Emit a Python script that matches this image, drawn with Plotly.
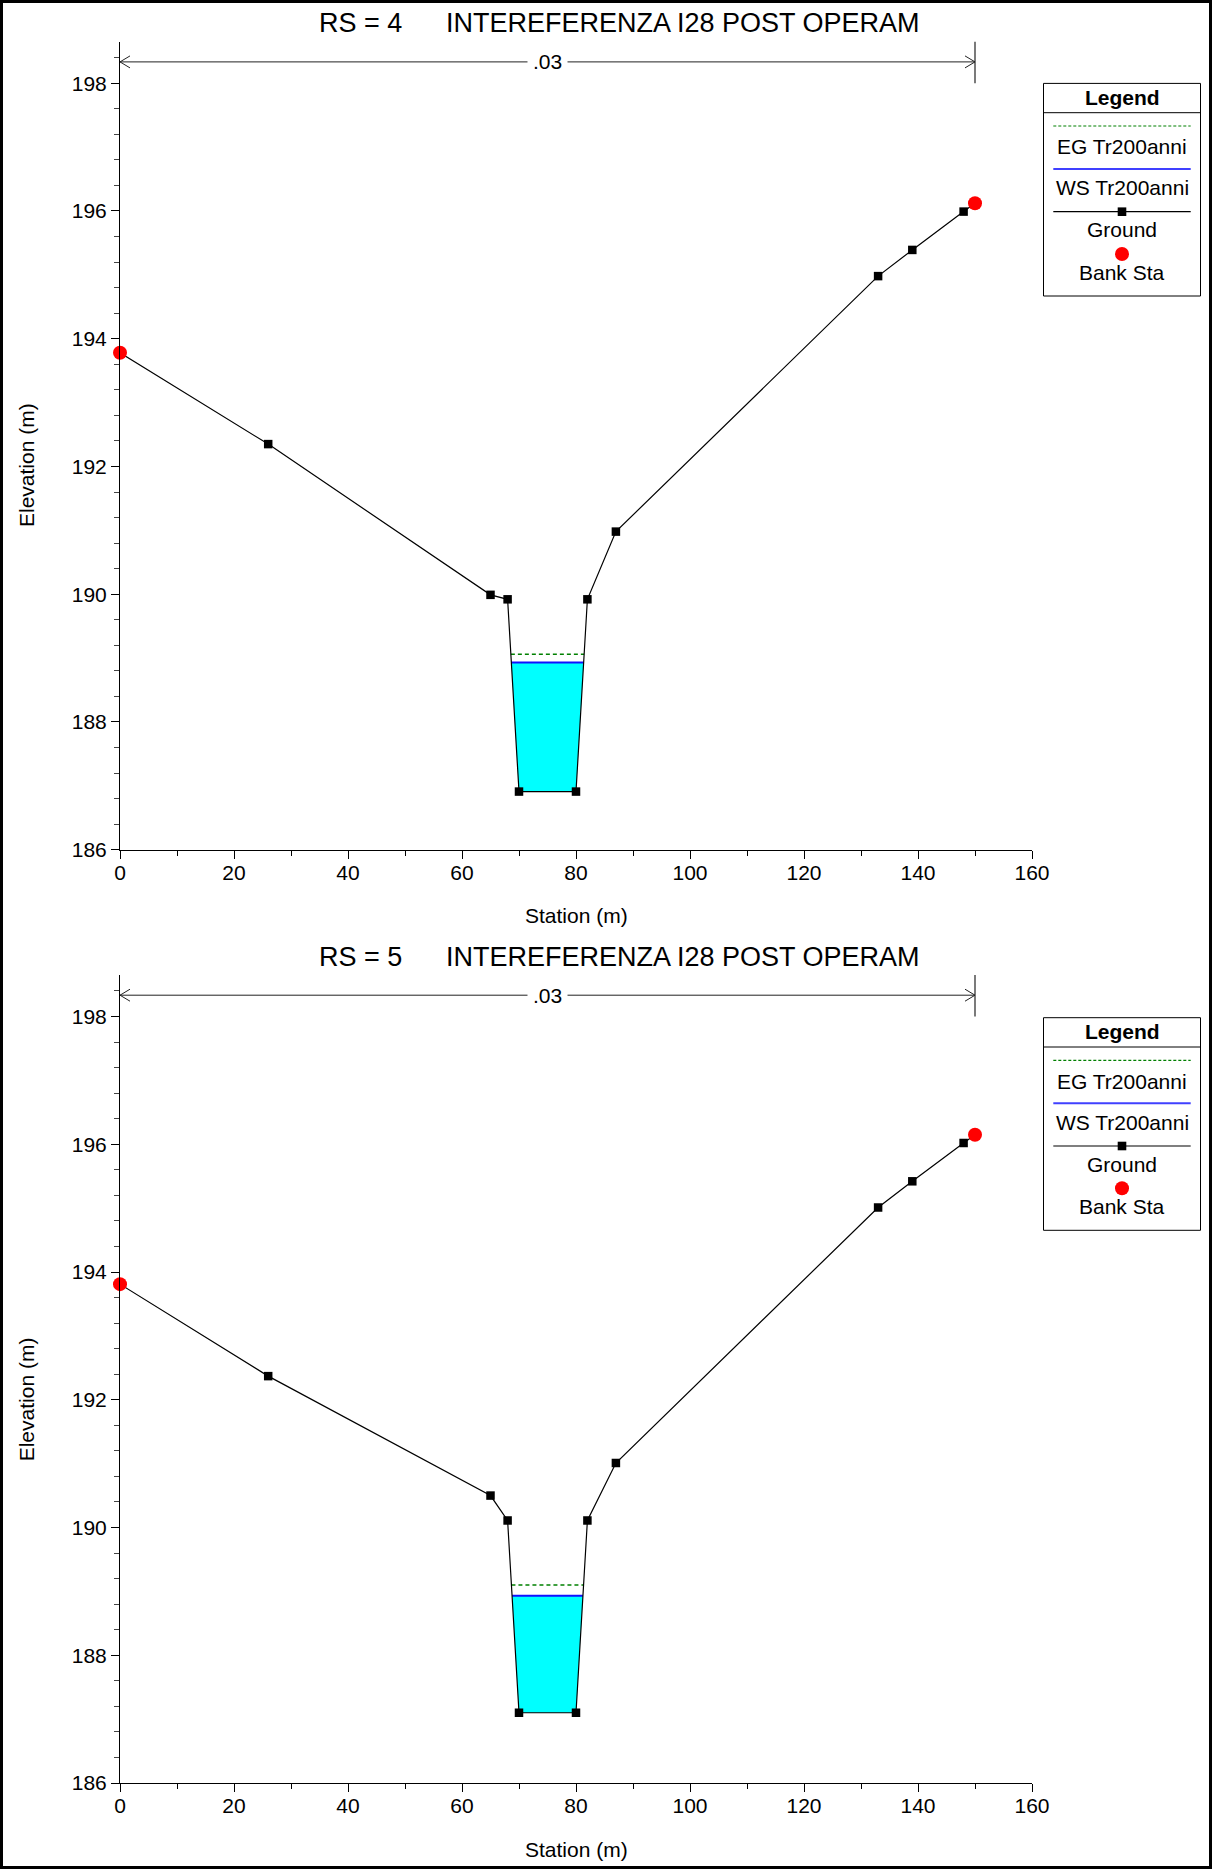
import numpy as np
import plotly.graph_objects as go

# ---------------- data ----------------
panel_titles = ["RS = 4", "RS = 5"]
subtitle = "INTEREFERENZA I28 POST OPERAM"

ground_sta = [0, 26, 65, 68, 70, 80, 82, 87, 133, 139, 148, 150]
ground_elev_rs4 = [193.78, 192.35, 189.99, 189.92, 186.91, 186.91, 189.92, 190.98, 194.98, 195.39, 195.99, 196.12]
ground_elev_rs5 = [193.81, 192.37, 190.50, 190.11, 187.10, 187.10, 190.11, 191.01, 195.01, 195.42, 196.02, 196.15]
bank_sta = [0, 150]
ws_levels = [188.93, 188.93]
eg_levels = [189.06, 189.10]
n_stations = [0, 150]
n_label = ".03"

legend_labels = ["EG Tr200anni", "WS Tr200anni", "Ground", "Bank Sta"]
x_ticks = [0, 20, 40, 60, 80, 100, 120, 140, 160]
y_ticks = [186, 188, 190, 192, 194, 196, 198]

# ---------------- layout geometry ----------------
W, H = 1212, 1869
ML, MR, MT, MB = 120, 180, 41, 86
PW = W - ML - MR
PH = H - MT - MB
FONT = "Arial, Liberation Sans, sans-serif"


def pxx(px):
    return (px - ML) / PW


def pxy(py):
    return (H - MB - py) / PH


panel_top_px = [41.7, 975.0]
panel_bot_px = [849.7, 1783.0]
panel_shift = [0.0, 934.3]
Y_RANGE = [186, 198.65]


def crossings(sta, elev, level):
    xs, ys = [], []
    for i in range(len(sta) - 1):
        x0, y0, x1, y1 = sta[i], elev[i], sta[i + 1], elev[i + 1]
        if y0 < level:
            xs.append(x0)
            ys.append(y0)
        if (y0 - level) * (y1 - level) < 0:
            t = (level - y0) / (y1 - y0)
            xs.append(x0 + t * (x1 - x0))
            ys.append(level)
    if elev[-1] < level:
        xs.append(sta[-1])
        ys.append(elev[-1])
    return xs, ys


fig = go.Figure()
shapes = []
annotations = []

grounds = [ground_elev_rs4, ground_elev_rs5]

for k in range(2):
    xa = "x" if k == 0 else "x2"
    ya = "y" if k == 0 else "y2"
    elev = grounds[k]
    ws = ws_levels[k]
    eg = eg_levels[k]

    wx, wy = crossings(ground_sta, elev, ws)
    ex, ey = crossings(ground_sta, elev, eg)

    # water fill
    fig.add_trace(go.Scatter(x=wx, y=wy, mode="lines", fill="toself",
                             fillcolor="#00FFFF", line=dict(width=0),
                             xaxis=xa, yaxis=ya, showlegend=False, hoverinfo="skip"))
    # EG
    fig.add_trace(go.Scatter(x=[ex[0], ex[-1]], y=[eg, eg], mode="lines",
                             line=dict(color="#008000", width=1.5, dash="4px,3px"),
                             xaxis=xa, yaxis=ya, showlegend=False))
    # WS
    fig.add_trace(go.Scatter(x=[wx[0], wx[-1]], y=[ws, ws], mode="lines",
                             line=dict(color="#1010FF", width=2),
                             xaxis=xa, yaxis=ya, showlegend=False))
    # Ground
    fig.add_trace(go.Scatter(x=ground_sta, y=elev, mode="lines+markers",
                             line=dict(color="black", width=1.2),
                             marker=dict(symbol="square", size=8.5, color="black"),
                             xaxis=xa, yaxis=ya, showlegend=False, cliponaxis=False))
    # Bank stations
    bank_elev = list(np.interp(bank_sta, ground_sta, elev))
    fig.add_trace(go.Scatter(x=bank_sta, y=bank_elev, mode="markers",
                             marker=dict(symbol="circle", size=14, color="#FF0000"),
                             xaxis=xa, yaxis=ya, showlegend=False, cliponaxis=False))

    # Manning's n annotation
    yd = f"{ya} domain"
    n_y = 0.975
    dx = 10 / (PW / 160.0)
    dy = 6 / 808.0
    shapes.append(dict(type="line", xref=xa, yref=yd, x0=n_stations[0], x1=n_stations[1],
                       y0=n_y, y1=n_y, line=dict(color="#222222", width=1)))
    shapes.append(dict(type="line", xref=xa, yref=yd, x0=n_stations[1], x1=n_stations[1],
                       y0=0.9485, y1=1.0, line=dict(color="#222222", width=1.2)))
    shapes.append(dict(type="path", xref=xa, yref=yd,
                       path=f"M {n_stations[0]+dx},{n_y+dy} L {n_stations[0]},{n_y} L {n_stations[0]+dx},{n_y-dy}",
                       line=dict(color="#222222", width=1)))
    shapes.append(dict(type="path", xref=xa, yref=yd,
                       path=f"M {n_stations[1]-dx},{n_y+dy} L {n_stations[1]},{n_y} L {n_stations[1]-dx},{n_y-dy}",
                       line=dict(color="#222222", width=1)))
    annotations.append(dict(text=n_label, xref=xa, yref=yd, x=(n_stations[0] + n_stations[1]) / 2,
                            y=n_y, showarrow=False, bgcolor="white", borderpad=5,
                            font=dict(family=FONT, size=21, color="black"),
                            xanchor="center", yanchor="middle"))

    sh = panel_shift[k]
    # titles
    annotations.append(dict(text=panel_titles[k], xref="paper", yref="paper",
                            x=pxx(317), y=pxy(23 + sh), showarrow=False,
                            xanchor="left", yanchor="middle",
                            font=dict(family=FONT, size=27, color="black")))
    annotations.append(dict(text=subtitle, xref="paper", yref="paper",
                            x=pxx(444), y=pxy(23 + sh), showarrow=False,
                            xanchor="left", yanchor="middle",
                            font=dict(family=FONT, size=27, color="black")))
    # axis titles
    annotations.append(dict(text="Station (m)", xref=xa, yref="paper",
                            x=80, y=pxy(915 + sh), showarrow=False,
                            xanchor="center", yanchor="middle",
                            font=dict(family=FONT, size=21, color="black")))
    annotations.append(dict(text="Elevation (m)", xref="paper", yref="paper",
                            x=pxx(26), y=pxy(465 + sh), showarrow=False, textangle=-90,
                            xanchor="center", yanchor="middle",
                            font=dict(family=FONT, size=21, color="black")))

    # custom legend
    top = 83.4 + sh
    lx0, lx1 = 1043.5, 1200.5
    cx = (lx0 + lx1) / 2
    shapes.append(dict(type="rect", xref="paper", yref="paper",
                       x0=pxx(lx0), x1=pxx(lx1), y0=pxy(top), y1=pxy(top + 212.6),
                       line=dict(color="black", width=1), fillcolor="white", layer="above"))
    shapes.append(dict(type="line", xref="paper", yref="paper",
                       x0=pxx(lx0), x1=pxx(lx1), y0=pxy(top + 29.3), y1=pxy(top + 29.3),
                       line=dict(color="black", width=1)))
    annotations.append(dict(text="<b>Legend</b>", xref="paper", yref="paper",
                            x=pxx(cx), y=pxy(top + 14), showarrow=False,
                            xanchor="center", yanchor="middle",
                            font=dict(family=FONT, size=21, color="black")))
    ll0, ll1 = 1053.3, 1190.7
    shapes.append(dict(type="line", xref="paper", yref="paper",
                       x0=pxx(ll0), x1=pxx(ll1), y0=pxy(top + 42.6), y1=pxy(top + 42.6),
                       line=dict(color="#008000", width=1.2, dash="3px,2px")))
    shapes.append(dict(type="line", xref="paper", yref="paper",
                       x0=pxx(ll0), x1=pxx(ll1), y0=pxy(top + 85.6), y1=pxy(top + 85.6),
                       line=dict(color="#4040FF", width=2)))
    shapes.append(dict(type="line", xref="paper", yref="paper",
                       x0=pxx(ll0), x1=pxx(ll1), y0=pxy(top + 128.3), y1=pxy(top + 128.3),
                       line=dict(color="black", width=1.2)))
    shapes.append(dict(type="rect", xref="paper", yref="paper",
                       x0=pxx(cx - 4.3), x1=pxx(cx + 4.3), y0=pxy(top + 128.3 - 4.3), y1=pxy(top + 128.3 + 4.3),
                       line=dict(width=0), fillcolor="black"))
    shapes.append(dict(type="circle", xref="paper", yref="paper",
                       x0=pxx(cx - 7), x1=pxx(cx + 7), y0=pxy(top + 170.6 - 7), y1=pxy(top + 170.6 + 7),
                       line=dict(width=0), fillcolor="#FF0000"))
    for lab, off in zip(legend_labels, [63.5, 104.5, 146.5, 189]):
        annotations.append(dict(text=lab, xref="paper", yref="paper",
                                x=pxx(cx), y=pxy(top + off), showarrow=False,
                                xanchor="center", yanchor="middle",
                                font=dict(family=FONT, size=21, color="black")))

# outer frame
shapes.append(dict(type="rect", xref="paper", yref="paper",
                   x0=pxx(1.5), x1=pxx(W - 1.5), y0=pxy(1.5), y1=pxy(H - 1.5),
                   line=dict(color="black", width=3)))

xaxis_common = dict(range=[0, 160], tickmode="array", tickvals=x_ticks,
                    ticktext=[str(v) for v in x_ticks],
                    showline=True, linecolor="black", linewidth=1,
                    ticks="outside", ticklen=8, tickwidth=1, tickcolor="black",
                    ticklabelstandoff=-4,
                    minor=dict(dtick=10, tick0=0, ticks="outside", ticklen=5, tickcolor="black", showgrid=False),
                    showgrid=False, zeroline=False,
                    tickfont=dict(family=FONT, size=21, color="black"))
yaxis_common = dict(range=Y_RANGE, tickmode="array", tickvals=y_ticks,
                    ticktext=[str(v) for v in y_ticks],
                    showline=True, linecolor="black", linewidth=1,
                    ticks="outside", ticklen=8, tickwidth=1, tickcolor="black",
                    minor=dict(dtick=0.4, tick0=186, ticks="outside", ticklen=5, tickcolor="#444444", showgrid=False),
                    showgrid=False, zeroline=False,
                    tickfont=dict(family=FONT, size=21, color="black"))

fig.update_layout(
    width=W, height=H,
    margin=dict(l=ML, r=MR, t=MT, b=MB),
    paper_bgcolor="white", plot_bgcolor="white",
    showlegend=False,
    xaxis=dict(**xaxis_common, domain=[0, 1], anchor="y"),
    yaxis=dict(**yaxis_common, domain=[pxy(panel_bot_px[0]), pxy(panel_top_px[0])], anchor="x"),
    xaxis2=dict(**xaxis_common, domain=[0, 1], anchor="y2"),
    yaxis2=dict(**yaxis_common, domain=[pxy(panel_bot_px[1]), pxy(panel_top_px[1])], anchor="x2"),
    shapes=shapes,
    annotations=annotations,
)

fig.write_html("out.html", config={"displayModeBar": False},
               post_script="document.body.style.margin='0';document.body.style.overflow='hidden';")
